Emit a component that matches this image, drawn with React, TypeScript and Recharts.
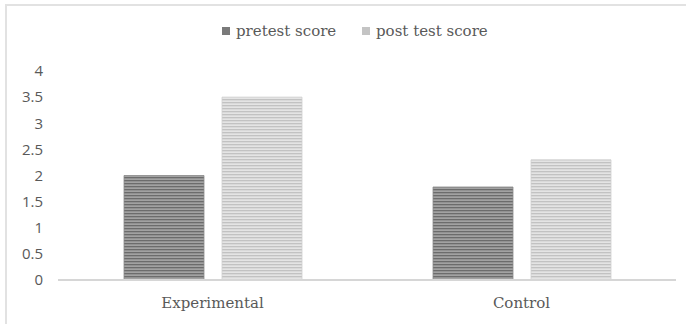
import React from 'react';
import { BarChart, Bar, XAxis, YAxis } from 'recharts';

const groups = ['Experimental', 'Control'];
const pretestScores = [2.0, 1.78];
const posttestScores = [3.5, 2.3];
const yTicks = [0, 0.5, 1, 1.5, 2, 2.5, 3, 3.5, 4];

const data = groups.map((name, i) => ({
    name,
    pretest: pretestScores[i],
    posttest: posttestScores[i],
}));

const serif = '"DejaVu Serif", serif';
const textColor = '#595959';

const LegendItem: React.FC<{ left: number; color: string; label: string }> = ({ left, color, label }) => (
    <div style={{ position: 'absolute', left, top: 22, display: 'flex', alignItems: 'center', height: 18 }}>
        <span style={{ width: 8, height: 8, background: color, display: 'inline-block', marginRight: 6 }} />
        <span style={{ fontFamily: serif, fontSize: 15, color: textColor, whiteSpace: 'nowrap' }}>{label}</span>
    </div>
);

export default function App() {
    return (
        <div style={{ position: 'fixed', left: 0, top: 0, width: 686, height: 324, overflow: 'hidden', background: '#fff' }}>
            {/* frame, only top and left edges are in view */}
            <div style={{ position: 'absolute', left: 5, top: 4, width: 720, height: 360, border: '2px solid #e2e2e2' }} />
            <LegendItem left={222} color="#7a7a7a" label="pretest score" />
            <LegendItem left={362} color="#c4c4c4" label="post test score" />
            <BarChart
                width={686}
                height={324}
                data={data}
                margin={{ top: 71, right: 10, left: 0, bottom: 0 }}
                barSize={80}
                barGap={18}
                style={{ position: 'absolute', left: 0, top: 0 }}
            >
                <defs>
                    <pattern id="stripeDark" width="6" height="3" patternUnits="userSpaceOnUse">
                        <rect x="0" y="0" width="6" height="3" fill="#a2a2a2" />
                        <rect x="0" y="0" width="6" height="1.3" fill="#6c6c6c" />
                    </pattern>
                    <pattern id="stripeLight" width="6" height="3" patternUnits="userSpaceOnUse">
                        <rect x="0" y="0" width="6" height="3" fill="#e4e4e4" />
                        <rect x="0" y="0" width="6" height="1.3" fill="#c2c2c2" />
                    </pattern>
                </defs>
                <XAxis
                    dataKey="name"
                    height={44}
                    axisLine={{ stroke: '#d6d6d6', strokeWidth: 2 }}
                    tickLine={false}
                    tickSize={0}
                    tickMargin={17}
                    tick={{ fontFamily: serif, fontSize: 15, fill: textColor }}
                />
                <YAxis
                    width={58}
                    domain={[0, 4]}
                    ticks={yTicks}
                    interval={0}
                    axisLine={false}
                    tickLine={false}
                    tickSize={0}
                    tickMargin={15}
                    tick={{ fontFamily: '"Open Sans", sans-serif', fontSize: 15, fill: textColor }}
                />
                <Bar dataKey="pretest" fill="url(#stripeDark)" stroke="#8a8a8a" strokeWidth={0.8} isAnimationActive={false} />
                <Bar dataKey="posttest" fill="url(#stripeLight)" stroke="#cfcfcf" strokeWidth={0.8} isAnimationActive={false} />
            </BarChart>
        </div>
    );
}
